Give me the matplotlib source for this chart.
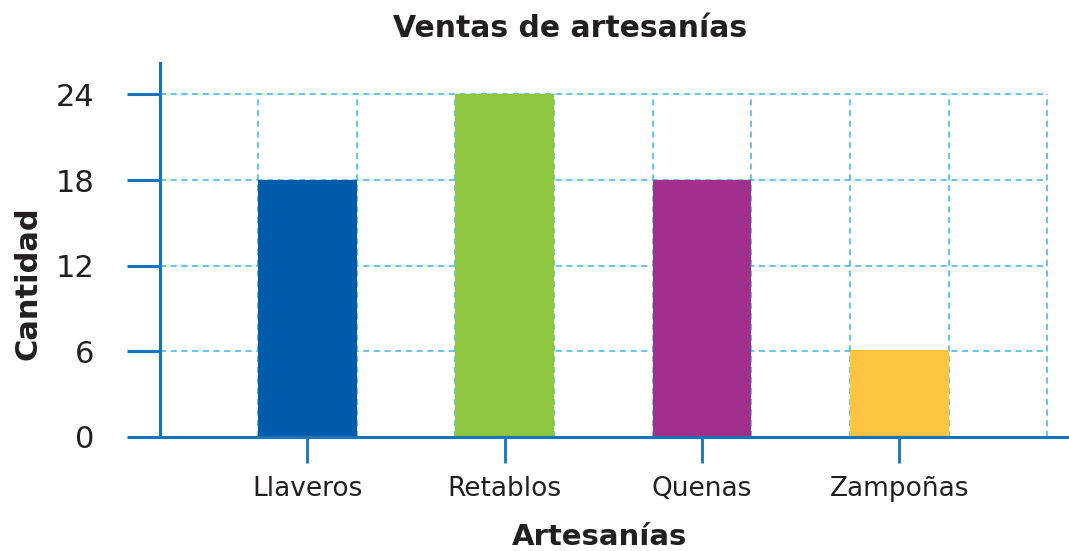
import matplotlib.pyplot as plt
import numpy as np

plt.rcParams['font.family'] = ['DejaVu Sans']

categorias = ['Llaveros', 'Retablos', 'Quenas', 'Zampoñas']
cantidades = [18, 24, 18, 6.1]
colores = ['#005BAA', '#8DC63F', '#A12F8E', '#FFC440']
y_ticks = [0, 6, 12, 18, 24]

eje_color = '#1273BE'
grid_color = '#3DB4E8'
texto = '#231F20'

fig = plt.figure(figsize=(10.69, 5.51), dpi=100)
ax = fig.add_axes([160/1069, 114/551, 909/1069, 374/551])

x = np.arange(1, len(categorias) + 1)
w = 0.5
ax.bar(x, cantidades, width=w, color=colores, zorder=3)

# grid only inside the 0..24 box, dashed light blue
xg = np.arange(x[0] - w/2, x[-1] + 3*w/2 + 0.01, w)
ax.vlines(xg, 0, y_ticks[-1], colors=grid_color, linestyles=(0, (4, 3)), lw=1.1, zorder=2)
ax.hlines(y_ticks[1:], 0.254, xg[-1], colors=grid_color, linestyles=(0, (4, 3)), lw=1.1, zorder=2)

ax.set_xlim(0.254, 4.86)
ax.set_ylim(0, 26.2)

for s in ['top', 'right']:
    ax.spines[s].set_visible(False)
for s in ['left', 'bottom']:
    ax.spines[s].set_color(eje_color)
    ax.spines[s].set_linewidth(2.2)
    ax.spines[s].set_zorder(4)

ax.set_yticks(y_ticks)
ax.set_yticklabels([str(v) for v in y_ticks])
ax.set_xticks(x)
ax.set_xticklabels(categorias)
ax.tick_params(axis='y', length=24, width=2.2, color=eje_color, pad=23,
               labelsize=22, labelcolor=texto)
ax.tick_params(axis='x', length=19, width=2, color=eje_color, pad=9,
               labelsize=19, labelcolor=texto)

ax.set_title('Ventas de artesanías', fontsize=21.5, fontweight='bold',
             color=texto, x=0.451, y=1.07, va='center')
ax.set_ylabel('Cantidad', fontsize=22, fontweight='bold', color=texto, va='center')
ax.yaxis.set_label_coords(-0.145, 0.412)
ax.set_xlabel('Artesanías', fontsize=21, fontweight='bold', color=texto, va='center')
ax.xaxis.set_label_coords(0.484, -0.267)

fig.savefig('out.png', dpi=100)
